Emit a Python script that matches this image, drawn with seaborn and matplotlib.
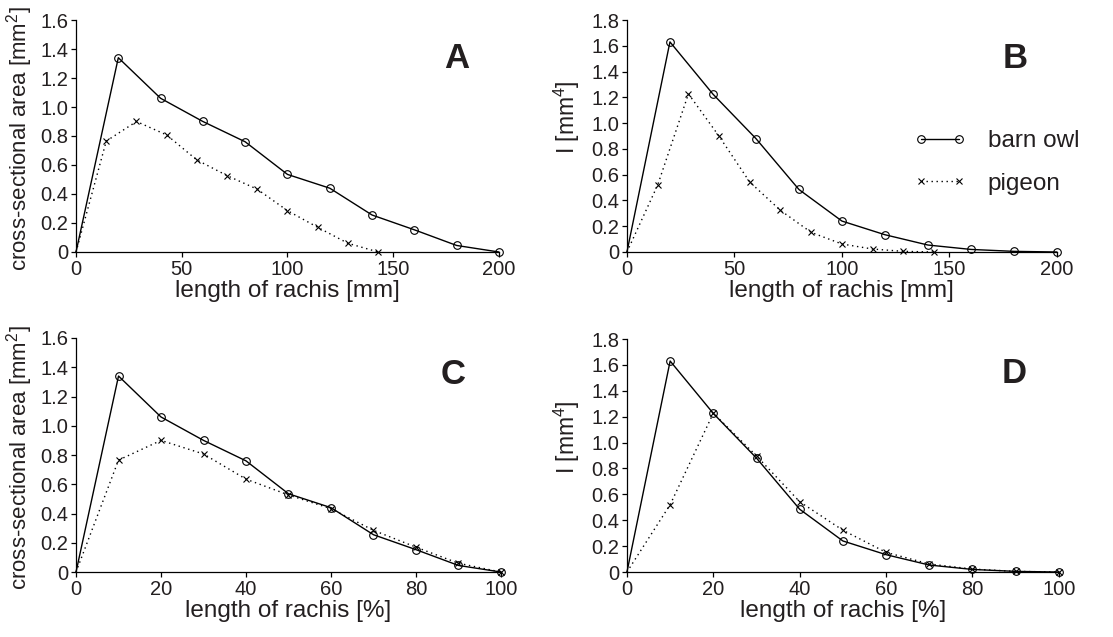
import numpy as np
import pandas as pd
import seaborn as sns
import matplotlib
matplotlib.use("Agg")
import matplotlib.pyplot as plt
from matplotlib.lines import Line2D
from matplotlib.legend_handler import HandlerLine2D
from matplotlib.ticker import FuncFormatter, MultipleLocator

# Positions along the rachis
owl_mm = [0, 20, 40, 60, 80, 100, 120, 140, 160, 180, 200]
pigeon_mm = [0, 14.3, 28.6, 42.9, 57.1, 71.4, 85.7, 100.0, 114.3, 128.6, 142.9]
rel_pct = [0, 10, 20, 30, 40, 50, 60, 70, 80, 90, 100]

# Cross-sectional area [mm^2]
owl_area = [0, 1.34, 1.06, 0.90, 0.76, 0.535, 0.44, 0.255, 0.153, 0.045, 0.0]
pigeon_area = [0, 0.765, 0.90, 0.807, 0.635, 0.527, 0.433, 0.285, 0.17, 0.06, 0.0]

# Second moment of area I [mm^4]
owl_I = [0, 1.63, 1.225, 0.88, 0.485, 0.24, 0.134, 0.054, 0.02, 0.005, 0.0]
pigeon_I = [0, 0.52, 1.227, 0.897, 0.543, 0.323, 0.152, 0.062, 0.023, 0.005, 0.0]

species = ["barn owl", "pigeon"]
panel_letters = ["A", "B", "C", "D"]

sns.set_theme(style="ticks")
plt.rcParams["font.family"] = ["Liberation Sans", "DejaVu Sans"]
plt.rcParams["mathtext.fontset"] = "custom"
plt.rcParams["mathtext.rm"] = "Liberation Sans"
TXT = "#231f20"

fig = plt.figure(figsize=(11.13, 6.37), dpi=100)
axA = fig.add_axes([0.0683, 0.6044, 0.380, 0.3642])
axB = fig.add_axes([0.5633, 0.6044, 0.3863, 0.3642])
axC = fig.add_axes([0.0683, 0.1020, 0.3818, 0.3674])
axD = fig.add_axes([0.5633, 0.1020, 0.3880, 0.3658])

owl_style = dict(color="black", marker="o", markersize=5.5, markerfacecolor="none",
                 markeredgecolor="black", markeredgewidth=0.8, linewidth=1.0,
                 linestyle="-")
pig_style = dict(color="black", marker="x", markersize=4.8, markeredgecolor="black",
                 markeredgewidth=0.8, linewidth=1.0, linestyle=(0, (1, 2.6)))

def draw(ax, xo, yo, xp, yp):
    # the origin point carries no marker
    sns.lineplot(x=xo, y=yo, ax=ax, sort=False, estimator=None, clip_on=False,
                 markevery=list(range(1, len(xo))), **owl_style)
    sns.lineplot(x=xp, y=yp, ax=ax, sort=False, estimator=None, clip_on=False,
                 markevery=list(range(1, len(xp))), **pig_style)

draw(axA, owl_mm, owl_area, pigeon_mm, pigeon_area)
draw(axB, owl_mm, owl_I, pigeon_mm, pigeon_I)
draw(axC, rel_pct, owl_area, rel_pct, pigeon_area)
draw(axD, rel_pct, owl_I, rel_pct, pigeon_I)

yfmt = FuncFormatter(lambda v, p: "0" if abs(v) < 1e-9 else f"{v:.1f}")

for ax in [axA, axB, axC, axD]:
    sns.despine(ax=ax)
    ax.yaxis.set_major_formatter(yfmt)
    ax.yaxis.set_major_locator(MultipleLocator(0.2))
    ax.tick_params(axis="both", direction="out", length=3.5, width=0.9,
                   labelsize=14.5, colors="black", labelcolor=TXT, pad=2)
    for s in ["left", "bottom"]:
        ax.spines[s].set_linewidth(0.9)
        ax.spines[s].set_color("black")
    ax.set_facecolor("white")

for ax in [axA, axB]:
    ax.set_xlim(0, 200)
    ax.xaxis.set_major_locator(MultipleLocator(50))
    ax.set_xlabel("length of rachis [mm]", fontsize=17.5, color=TXT, labelpad=1)
for ax in [axC, axD]:
    ax.set_xlim(0, 100)
    ax.xaxis.set_major_locator(MultipleLocator(20))
    ax.set_xlabel("length of rachis [%]", fontsize=17.5, color=TXT, labelpad=1)

for ax in [axA, axC]:
    ax.set_ylim(0, 1.6)
    ax.set_ylabel("cross-sectional area [mm$^2$]", fontsize=16, color=TXT)
    ax.yaxis.set_label_coords(-0.097, 0.49)
for ax in [axB, axD]:
    ax.set_ylim(0, 1.8)
    ax.set_ylabel("I [mm$^4$]", fontsize=16.5, color=TXT)
    ax.yaxis.set_label_coords(-0.105, 0.58)

letter_pos = [(0.90, 0.836), (0.902, 0.836), (0.887, 0.842), (0.896, 0.85)]
for ax, letter, (lx, ly) in zip([axA, axB, axC, axD], panel_letters, letter_pos):
    ax.text(lx, ly, letter, transform=ax.transAxes, ha="center", va="center",
            fontsize=25, fontweight="bold", color=TXT)

# legend keys (not drawn on the axes)
key_owl = Line2D([], [], **owl_style)
key_pig = Line2D([], [], **pig_style)
axB.legend([key_owl, key_pig], species, loc="center left",
           bbox_to_anchor=(0.653, 0.386), frameon=False, fontsize=17.5,
           handler_map={Line2D: HandlerLine2D(marker_pad=0.55, numpoints=2)},
           handlelength=2.65, handletextpad=0.65, labelspacing=0.85,
           borderpad=0, borderaxespad=0, labelcolor=TXT)

fig.savefig("out.png", dpi=100, facecolor="white")
